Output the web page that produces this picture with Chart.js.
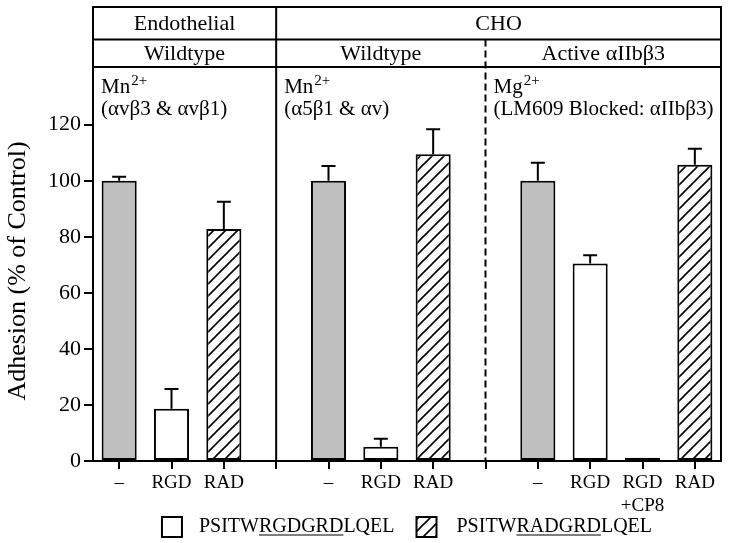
<!DOCTYPE html>
<html><head><meta charset="utf-8">
<script src="https://cdn.jsdelivr.net/npm/chart.js@4.4.1/dist/chart.umd.min.js"></script>
<style>html,body{margin:0;padding:0;background:#fff;}</style>
</head><body>
<canvas id="c" width="729" height="543"></canvas>
<script>
// ---------- data ----------
const categories = ['–', 'RGD', 'RAD', '', '–', 'RGD', 'RAD', '', '–', 'RGD', ['RGD', '+CP8'], 'RAD'];
const controlMean = [100, null, null, null, 100, null, null, null, 100, null, null, null];
const controlErr  = [1.4, null, null, null, 5.3, null, null, null, 6.4, null, null, null];
const rgdMean = [null, 18.6, null, null, null, 5.1, null, null, null, 70.5, 1.2, null];
const rgdErr  = [null, 7.1, null, null, null, 2.8, null, null, null, 2.9, 0, null];
const radMean = [null, null, 82.8, null, null, null, 109.5, null, null, null, null, 105.7];
const radErr  = [null, null, 9.7, null, null, null, 8.9, null, null, null, null, 5.7];
const yTicks = [0, 20, 40, 60, 80, 100, 120];
const yTitle = 'Adhesion (% of Control)';
const topHeaders = ['Endothelial', 'CHO'];
const subHeaders = ['Wildtype', 'Wildtype', 'Active αIIbβ3'];
const ionLabels = ['Mn', 'Mn', 'Mg'];
const ionCharge = '2+';
const receptorLabels = ['(αvβ3 & αvβ1)', '(α5β1 & αv)', '(LM609 Blocked: αIIbβ3)'];
const legendLabels = [
  {pre: 'PSITW', ul: 'RGDGRD', post: 'LQEL'},
  {pre: 'PSITW', ul: 'RADGRD', post: 'LQEL'}
];
const dividerSlots = [3, 7];

// ---------- styles ----------
const FONT = "'Liberation Serif', 'Times New Roman', serif";

function hatchPattern() {
  const s = 12;
  const c = document.createElement('canvas'); c.width = s; c.height = s;
  const g = c.getContext('2d');
  g.fillStyle = '#fff'; g.fillRect(0, 0, s, s);
  g.strokeStyle = '#000'; g.lineWidth = 1.6;
  g.beginPath();
  g.moveTo(0, s); g.lineTo(s, 0);
  g.moveTo(-2, 2); g.lineTo(2, -2);
  g.moveTo(s - 2, s + 2); g.lineTo(s + 2, s - 2);
  g.stroke();
  return g.createPattern(c, 'repeat');
}
const GRAY = '#bfbfbf';
const HATCH = hatchPattern();

const series = [
  {label: 'Control', mean: controlMean, err: controlErr, fill: GRAY},
  {label: 'PSITWRGDGRDLQEL', mean: rgdMean, err: rgdErr, fill: '#ffffff'},
  {label: 'PSITWRADGRDLQEL', mean: radMean, err: radErr, fill: HATCH}
];

// ---------- plugins ----------
const errorBars = {
  id: 'errorBars',
  afterDatasetsDraw(chart) {
    const ctx = chart.ctx, ys = chart.scales.y;
    ctx.save();
    ctx.strokeStyle = '#000'; ctx.lineWidth = 2;
    series.forEach((s, di) => {
      const meta = chart.getDatasetMeta(di);
      s.mean.forEach((v, i) => {
        const e = s.err[i];
        if (v == null || !e) return;
        const x = meta.data[i].x;
        const y0 = ys.getPixelForValue(v), y1 = ys.getPixelForValue(v + e);
        ctx.beginPath();
        ctx.moveTo(x, y0); ctx.lineTo(x, y1);
        ctx.moveTo(x - 7, y1); ctx.lineTo(x + 7, y1);
        ctx.stroke();
      });
    });
    ctx.restore();
  }
};

const frame = {
  id: 'frame',
  afterDraw(chart) {
    const ctx = chart.ctx, ca = chart.chartArea, xs = chart.scales.x;
    const top = ca.top, L = ca.left, R = ca.right, B = ca.bottom;
    const line1 = top + 32.5, line2 = top + 60;
    const d1 = xs.getPixelForValue(dividerSlots[0]);
    const d2 = xs.getPixelForValue(dividerSlots[1]);
    ctx.save();
    ctx.strokeStyle = '#000'; ctx.lineWidth = 2;
    ctx.beginPath();
    ctx.moveTo(L - 1, top); ctx.lineTo(R + 1, top);
    ctx.moveTo(R, top); ctx.lineTo(R, B);
    ctx.moveTo(L, line1); ctx.lineTo(R, line1);
    ctx.moveTo(L, line2); ctx.lineTo(R, line2);
    ctx.moveTo(d1, top); ctx.lineTo(d1, B);
    ctx.stroke();
    ctx.setLineDash([7, 4]);
    ctx.beginPath();
    ctx.moveTo(d2, line1); ctx.lineTo(d2, B);
    ctx.stroke();
    ctx.setLineDash([]);

    ctx.fillStyle = '#000';
    ctx.textAlign = 'center'; ctx.textBaseline = 'middle';
    ctx.font = '22px ' + FONT;
    ctx.fillText(topHeaders[0], (L + d1) / 2, (top + line1) / 2 + 1);
    ctx.fillText(topHeaders[1], (d1 + R) / 2, (top + line1) / 2 + 1);
    ctx.fillText(subHeaders[0], (L + d1) / 2, (line1 + line2) / 2 + 1);
    ctx.fillText(subHeaders[1], (d1 + d2) / 2, (line1 + line2) / 2 + 1);
    ctx.fillText(subHeaders[2], (d2 + R) / 2, (line1 + line2) / 2 + 1);

    const lefts = [L, d1, d2];
    ctx.textAlign = 'left'; ctx.textBaseline = 'alphabetic';
    lefts.forEach((lx, i) => {
      const x0 = lx + 8;
      ctx.font = '21px ' + FONT;
      ctx.fillText(ionLabels[i], x0, line2 + 26);
      const w = ctx.measureText(ionLabels[i]).width;
      ctx.font = '15px ' + FONT;
      ctx.fillText(ionCharge, x0 + w + 1, line2 + 18);
      ctx.font = '21px ' + FONT;
      ctx.fillText(receptorLabels[i], x0, line2 + 48);
    });

    // y-axis title
    ctx.save();
    ctx.translate(18, 271);
    ctx.rotate(-Math.PI / 2);
    ctx.textAlign = 'center'; ctx.textBaseline = 'middle';
    ctx.font = '26px ' + FONT;
    ctx.fillText(yTitle, 0, 0);
    ctx.restore();

    // legend
    ctx.font = '20px ' + FONT;
    const box = 20, gap1 = 17, gapItems = 22, gap2 = 20;
    const widths = legendLabels.map(l => ctx.measureText(l.pre + l.ul + l.post).width);
    const total = box + gap1 + widths[0] + gapItems + box + gap2 + widths[1];
    let x = (L + R) / 2 - total / 2;
    const yc = 527;
    const fills = ['#ffffff', HATCH];
    legendLabels.forEach((l, i) => {
      ctx.fillStyle = fills[i];
      ctx.fillRect(x, yc - box / 2, box, box);
      ctx.strokeStyle = '#000'; ctx.lineWidth = 2;
      ctx.strokeRect(x, yc - box / 2, box, box);
      x += box + (i === 0 ? gap1 : gap2);
      ctx.fillStyle = '#000';
      ctx.textAlign = 'left'; ctx.textBaseline = 'middle';
      ctx.fillText(l.pre + l.ul + l.post, x, yc);
      const wPre = ctx.measureText(l.pre).width, wUl = ctx.measureText(l.ul).width;
      ctx.lineWidth = 1.2;
      ctx.beginPath();
      ctx.moveTo(x + wPre, yc + 8); ctx.lineTo(x + wPre + wUl, yc + 8);
      ctx.stroke();
      x += widths[i] + gapItems;
    });
    ctx.restore();
  }
};

// ---------- chart ----------
new Chart(document.getElementById('c'), {
  type: 'bar',
  data: {
    labels: categories,
    datasets: series.map(s => ({
      label: s.label,
      data: s.mean,
      backgroundColor: s.fill,
      borderColor: '#000',
      borderWidth: 2,
      borderSkipped: false,
      barPercentage: 0.67,
      categoryPercentage: 1.0
    }))
  },
  options: {
    responsive: false,
    animation: false,
    devicePixelRatio: 1,
    layout: {padding: {top: 7, right: 8, left: 0, bottom: 0}},
    plugins: {legend: {display: false}, tooltip: {enabled: false}, title: {display: false}},
    scales: {
      x: {
        stacked: true,
        offset: true,
        grid: {drawOnChartArea: false, drawTicks: true, tickLength: 8, color: '#000', lineWidth: 2, offset: false},
        border: {display: true, color: '#000', width: 2},
        ticks: {color: '#000', font: {family: FONT, size: 19}, padding: 3, maxRotation: 0, autoSkip: false},
        afterFit: s => { s.height = 82; s.paddingLeft = 0; s.paddingRight = 0; }
      },
      y: {
        stacked: true,
        min: 0, max: 162,
        ticks: {stepSize: 20, color: '#000', font: {family: FONT, size: 22}, padding: 3},
        grid: {drawOnChartArea: false, tickLength: 9, color: '#000', lineWidth: 2},
        border: {display: true, color: '#000', width: 2},
        afterBuildTicks: s => { s.ticks = yTicks.map(v => ({value: v})); },
        afterFit: s => { s.width = 93; s.paddingTop = 0; s.paddingBottom = 0; }
      }
    }
  },
  plugins: [errorBars, frame]
});
</script>
</body></html>
